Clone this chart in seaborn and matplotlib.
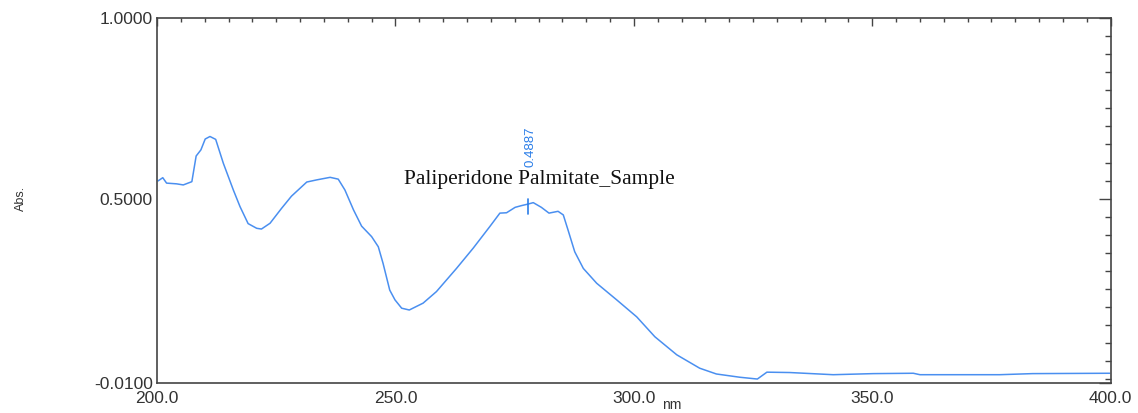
import numpy as np
import pandas as pd
import matplotlib
matplotlib.use('Agg')
import matplotlib.pyplot as plt
import seaborn as sns

# Spectrum (wavelength nm, absorbance)
wavelength = [200.2, 201.2, 202.0, 204.1, 205.5, 207.3, 208.2, 209.2, 210.1, 211.1,
              212.3, 213.9, 216.0, 217.4, 219.1, 220.9, 221.9, 223.7, 226.1, 228.2,
              231.4, 233.5, 236.3, 238.0, 239.4, 241.2, 242.9, 245.0, 246.4, 247.4,
              248.8, 249.9, 251.3, 252.9, 255.8, 258.6, 262.8, 266.3, 269.8, 271.9,
              273.3, 275.1, 276.5, 277.8, 278.9, 280.6, 282.2, 284.1, 285.2, 286.2,
              287.6, 289.4, 292.2, 296.4, 300.6, 304.4, 309.0, 313.8, 317.3, 322.2,
              325.9, 327.9, 332.7, 341.8, 350.2, 358.6, 360.0, 364.2, 376.7, 383.6,
              399.8]
absorbance = [0.549, 0.558, 0.543, 0.541, 0.538, 0.547, 0.618, 0.635, 0.665, 0.672,
              0.664, 0.598, 0.524, 0.478, 0.431, 0.418, 0.416, 0.432, 0.473, 0.507,
              0.546, 0.552, 0.559, 0.554, 0.524, 0.469, 0.424, 0.395, 0.367, 0.321,
              0.247, 0.220, 0.197, 0.192, 0.211, 0.243, 0.307, 0.363, 0.423, 0.460,
              0.461, 0.476, 0.481, 0.485, 0.489, 0.476, 0.460, 0.465, 0.455, 0.413,
              0.353, 0.307, 0.266, 0.220, 0.173, 0.118, 0.068, 0.031, 0.015, 0.006,
              0.001, 0.020, 0.019, 0.013, 0.016, 0.017, 0.013, 0.013, 0.013, 0.016,
              0.017]

peak_nm = 277.9
peak_value = 0.4887
sample_name = 'Paliperidone Palmitate_Sample'

x_major = [200.0, 250.0, 300.0, 350.0, 400.0]
y_major = [-0.01, 0.5, 1.0]
y_labels = ['-0.0100', '0.5000', '1.0000']

line_color = '#4a8ff0'
mark_color = '#2a7de8'
axis_color = '#444444'

df = pd.DataFrame({'nm': wavelength, 'Abs.': absorbance})

sns.set_style('white')
plt.rcParams['font.family'] = ['Liberation Sans', 'DejaVu Sans']

fig = plt.figure(figsize=(11.38, 4.13), dpi=100)
ax = fig.add_axes([0.138, 0.0726, 0.838, 0.884])

sns.lineplot(data=df, x='nm', y='Abs.', ax=ax, color=line_color, linewidth=1.1)

ax.set_xlim(200, 400)
ax.set_ylim(-0.01, 1.0)

ax.set_xticks(x_major)
ax.set_xticklabels([f'{v:.1f}' for v in x_major])
ax.set_xticks(np.arange(205, 400, 5), minor=True)
ax.set_yticks(y_major)
ax.set_yticklabels(y_labels)
ax.set_yticks([v for v in np.arange(0, 1.0, 0.05) if abs(v - 0.5) > 1e-6], minor=True)

for side in ['left', 'right', 'top', 'bottom']:
    ax.spines[side].set_color(axis_color)
    ax.spines[side].set_linewidth(1.2)

ax.tick_params(axis='both', which='both', direction='in', colors=axis_color,
               top=True, right=True, width=1.0)
ax.tick_params(axis='y', which='major', length=9, pad=3, labelsize=12.5,
               labelcolor='#333333')
ax.tick_params(axis='y', which='minor', length=4.5)
ax.tick_params(axis='x', which='major', length=5.5, pad=6, labelsize=12.5,
               labelcolor='#333333')
ax.tick_params(axis='x', which='minor', length=3)

ax.set_xlabel('')
ax.set_ylabel('')
fig.text(0.018, 0.52, 'Abs.', rotation=90, ha='center', va='center',
         fontsize=9, color='#333333')
fig.text(0.5815, 0.003, 'nm', ha='left', va='bottom', fontsize=10, color='#333333')

# peak marker and labels
ax.plot([peak_nm, peak_nm], [peak_value - 0.03, peak_value + 0.01], color=mark_color,
        linewidth=1.2)
ax.text(peak_nm + 0.4, peak_value + 0.1, f'{peak_value:.4f}', rotation=90,
        ha='center', va='bottom', fontsize=9.5, color=mark_color)
ax.text(251.8, 0.552, sample_name, ha='left', va='center', fontsize=15.5,
        family=['Liberation Serif', 'DejaVu Serif'], color='#111111')

fig.savefig('out.png', dpi=100)
plt.close(fig)
